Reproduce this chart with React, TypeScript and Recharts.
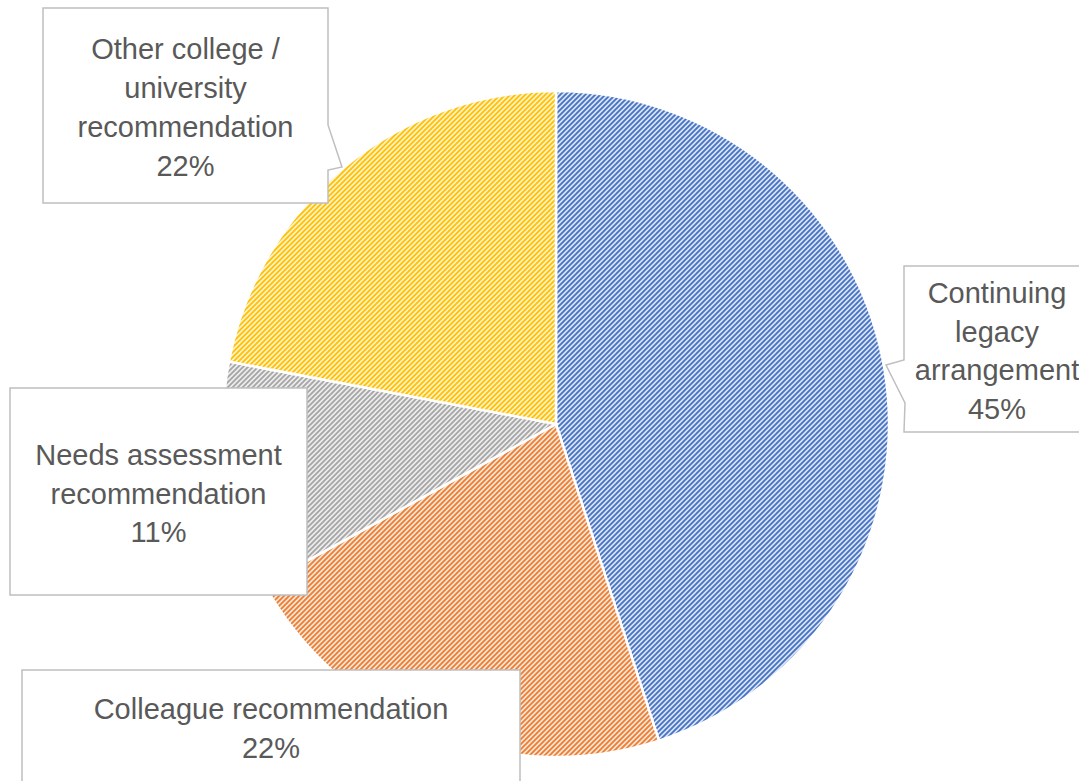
import React from 'react';
import { PieChart, Pie, Cell } from 'recharts';

const categories = [
  'Continuing legacy arrangement',
  'Colleague recommendation',
  'Needs assessment recommendation',
  'Other college / university recommendation',
];
const values = [45, 22, 11, 22];
const percentLabels = ['45%', '22%', '11%', '22%'];
const labelLines = [
  ['Continuing', 'legacy', 'arrangement'],
  ['Colleague recommendation'],
  ['Needs assessment', 'recommendation'],
  ['Other college /', 'university', 'recommendation'],
];

const lineColors = ['#4472C4', '#ED7D31', '#A5A5A5', '#FFC000'];
const bgColors = ['#DAE3F3', '#FBE5D6', '#EDEDED', '#FFF2CC'];

// box layout relative to pie center: [dx, dy, w, h], optional pointer polygon relative to center
const boxLayout = [
  { dx: 348, dy: -158, w: 186, h: 166, pointer: [[348, -64], [330, -59], [349, -21]] },
  { dx: -534, dy: 246, w: 498, h: 113, pointer: null },
  { dx: -546, dy: -36, w: 297, h: 207, pointer: null },
  { dx: -513, dy: -416, w: 285, h: 195, pointer: [[-228, -299], [-214, -257], [-228, -254]] },
];

const data = categories.map((name, i) => ({ name, value: values[i] }));

const FONT = 'Liberation Sans, Arial, sans-serif';
const FS = 29;
const LH = 38.7;

const renderLabel = (props: any) => {
  const { cx, cy, index } = props;
  const b = boxLayout[index];
  const x = cx + b.dx;
  const y = cy + b.dy;
  const lines = [...labelLines[index], percentLabels[index]];
  const midY = y + b.h / 2 + 2;
  const startY = midY - ((lines.length - 1) * LH) / 2;
  const tx = x + b.w / 2;
  let path = `M${x},${y} L${x + b.w},${y} L${x + b.w},${y + b.h} L${x},${y + b.h} Z`;
  if (b.pointer) {
    const p = b.pointer.map(([px, py]) => `${cx + px},${cy + py}`);
    if (index === 0) {
      path = `M${x},${y} L${x + b.w},${y} L${x + b.w},${y + b.h} L${x},${y + b.h} L${p[2]} L${p[1]} L${p[0]} Z`;
    } else {
      path = `M${x},${y} L${x + b.w},${y} L${p[0]} L${p[1]} L${p[2]} L${x + b.w},${y + b.h} L${x},${y + b.h} Z`;
    }
  }
  return (
    <g key={`lbl-${index}`}>
      <path d={path} fill="#FFFFFF" stroke="#BFBFBF" strokeWidth={1.5} />
      {lines.map((t, k) => (
        <text
          key={k}
          x={tx}
          y={startY + k * LH}
          textAnchor="middle"
          dominantBaseline="central"
          fill="#595959"
          fontSize={FS}
          fontFamily={FONT}
        >
          {t}
        </text>
      ))}
    </g>
  );
};

export default function App() {
  return (
    <div style={{ position: 'absolute', left: 0, top: 0, width: 1079, height: 781, background: '#fff', overflow: 'hidden' }}>
      <svg width={0} height={0} style={{ position: 'absolute' }}>
        <defs>
          {lineColors.map((c, i) => (
            <pattern key={i} id={`hatch${i}`} patternUnits="userSpaceOnUse" width={5} height={5}>
              <rect width={5} height={5} fill={bgColors[i]} />
              <path d="M-1,1 L1,-1 M0,5 L5,0 M4,6 L6,4" stroke={c} strokeWidth={1.8} />
            </pattern>
          ))}
        </defs>
      </svg>
      <PieChart width={1079} height={781} margin={{ top: 0, right: 0, bottom: 0, left: 0 }}>
        <Pie
          data={data}
          dataKey="value"
          nameKey="name"
          cx={556}
          cy={424}
          outerRadius={333}
          startAngle={90}
          endAngle={-270}
          stroke="#FFFFFF"
          strokeWidth={2.5}
          label={renderLabel}
          labelLine={false}
          isAnimationActive={false}
        >
          {data.map((_, i) => (
            <Cell key={i} fill={`url(#hatch${i})`} />
          ))}
        </Pie>
      </PieChart>
    </div>
  );
}
